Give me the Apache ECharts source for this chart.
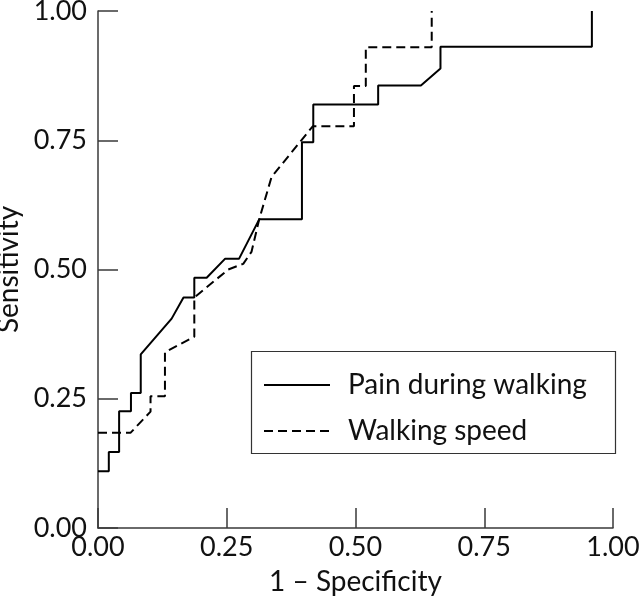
<!DOCTYPE html>
<html>
<head>
<meta charset="utf-8">
<script src="https://cdn.jsdelivr.net/npm/echarts@6/dist/echarts.min.js"></script>
<style>html,body{margin:0;padding:0;background:#fff}#c{width:640px;height:605px}</style>
</head>
<body>
<div id="c"></div>
<script>
var xTicks = [0, 0.25, 0.5, 0.75, 1.0];
var seriesNames = ['Pain during walking', 'Walking speed'];
// Pain during walking: [1-specificity, sensitivity]
var painFpr  = [0, 0.021, 0.021, 0.041, 0.041, 0.064, 0.064, 0.083, 0.083, 0.143, 0.166, 0.187, 0.187, 0.211, 0.247, 0.274, 0.313, 0.396, 0.396, 0.418, 0.418, 0.544, 0.544, 0.627, 0.665, 0.665, 0.959, 0.959];
var painSens = [0.110, 0.110, 0.147, 0.147, 0.226, 0.226, 0.261, 0.261, 0.336, 0.405, 0.446, 0.446, 0.484, 0.484, 0.521, 0.521, 0.597, 0.597, 0.746, 0.746, 0.819, 0.819, 0.856, 0.856, 0.889, 0.931, 0.931, 1.0];
// Walking speed
var speedFpr  = [0, 0.063, 0.102, 0.102, 0.130, 0.130, 0.187, 0.187, 0.253, 0.282, 0.298, 0.313, 0.337, 0.417, 0.497, 0.497, 0.520, 0.520, 0.648, 0.648];
var speedSens = [0.184, 0.184, 0.225, 0.255, 0.255, 0.340, 0.370, 0.446, 0.500, 0.511, 0.534, 0.597, 0.679, 0.777, 0.777, 0.855, 0.855, 0.930, 0.930, 1.0];

function pairs(xs, ys){ return xs.map(function(x,i){ return [x, ys[i]]; }); }

var FONT = 'Lato';
var chart = echarts.init(document.getElementById('c'), null, {renderer:'canvas'});
var axisCol = '#3a3a3a';
chart.setOption({
  animation: false,
  backgroundColor: '#fff',
  textStyle: {fontFamily: FONT, color: '#111'},
  grid: {left: 98, right: 27, top: 11, bottom: 77, containLabel: false, outerBoundsMode: 'none'},
  xAxis: {
    type: 'value', min: 0, max: 1, interval: 0.25,
    name: '1 – Specificity', nameLocation: 'middle', nameGap: 40,
    nameTextStyle: {fontSize: 28, color: '#111', fontFamily: FONT},
    axisLine: {lineStyle: {color: axisCol, width: 1.5}},
    axisTick: {inside: true, length: 20, lineStyle: {color: axisCol, width: 1.5}},
    axisLabel: {fontSize: 27, color: '#111', margin: 6, formatter: function(v){ return v.toFixed(2); }},
    splitLine: {show: false}
  },
  yAxis: {
    type: 'value', min: 0, max: 1, interval: 0.25,
    name: 'Sensitivity', nameLocation: 'middle', nameGap: 70, nameRotate: 90,
    nameTextStyle: {fontSize: 28, color: '#111', fontFamily: FONT},
    axisLine: {lineStyle: {color: axisCol, width: 1.5}},
    axisTick: {inside: true, length: 20, lineStyle: {color: axisCol, width: 1.5}},
    axisLabel: {fontSize: 27, color: '#111', margin: 11, formatter: function(v){ return v.toFixed(2); }},
    splitLine: {show: false}
  },
  legend: {
    orient: 'vertical', left: 263, top: 371,
    itemWidth: 66, itemHeight: 24, itemGap: 18, padding: 0,
    itemStyle: {opacity: 0},
    textStyle: {fontSize: 28, color: '#111', fontFamily: FONT, padding: [0,0,0,13]},
    data: seriesNames
  },
  graphic: [{
    type: 'rect', left: 249, top: 349, silent: true,
    shape: {width: 364, height: 102},
    style: {fill: 'none', stroke: '#333', lineWidth: 1.2}
  }],
  series: [{
    name: seriesNames[0], type: 'line', symbol: 'none', data: pairs(painFpr, painSens),
    lineStyle: {color: '#000', width: 2}, itemStyle: {color: '#000'}
  }, {
    name: seriesNames[1], type: 'line', symbol: 'none', data: pairs(speedFpr, speedSens),
    lineStyle: {color: '#000', width: 2, type: [9, 5]}, itemStyle: {color: '#000'}
  }]
});
</script>
</body>
</html>
